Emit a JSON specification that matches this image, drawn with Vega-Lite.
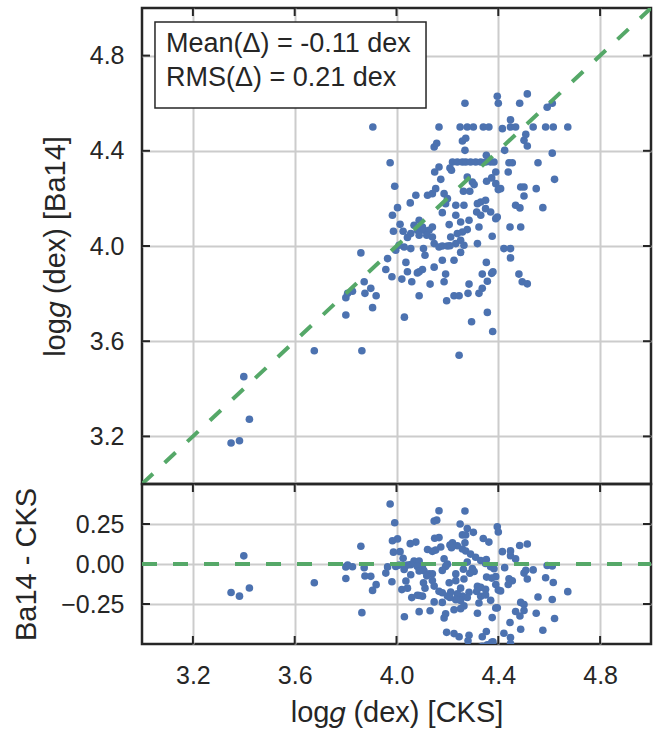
{
  "$schema": "https://vega.github.io/schema/vega-lite/v6.json",
  "padding": {"left": 11, "top": 5, "right": 12, "bottom": 0},
  "background": "white",
  "datasets": {
    "stars": [
      {"cks":3.400,"ba14":3.451,"delta":0.051},{"cks":3.422,"ba14":3.272,"delta":-0.150},{"cks":3.350,"ba14":3.172,"delta":-0.178},{"cks":3.383,"ba14":3.182,"delta":-0.201},
      {"cks":3.677,"ba14":3.560,"delta":-0.117},{"cks":3.864,"ba14":3.560,"delta":-0.304},{"cks":4.246,"ba14":3.541,"delta":-0.705},{"cks":3.907,"ba14":4.500,"delta":0.593},
      {"cks":3.975,"ba14":4.350,"delta":0.375},{"cks":3.993,"ba14":4.251,"delta":0.258},{"cks":3.860,"ba14":3.971,"delta":0.111},{"cks":3.801,"ba14":3.710,"delta":-0.091},
      {"cks":3.801,"ba14":3.783,"delta":-0.018},{"cks":3.808,"ba14":3.801,"delta":-0.007},{"cks":3.827,"ba14":3.810,"delta":-0.017},{"cks":3.873,"ba14":3.850,"delta":-0.023},
      {"cks":3.876,"ba14":3.801,"delta":-0.075},{"cks":3.899,"ba14":3.822,"delta":-0.077},{"cks":3.920,"ba14":3.791,"delta":-0.129},{"cks":3.906,"ba14":3.741,"delta":-0.165},
      {"cks":4.031,"ba14":3.701,"delta":-0.330},{"cks":4.295,"ba14":3.682,"delta":-0.613},{"cks":4.378,"ba14":3.641,"delta":-0.737},{"cks":4.357,"ba14":3.721,"delta":-0.636},
      {"cks":4.269,"ba14":4.600,"delta":0.331},{"cks":4.396,"ba14":4.629,"delta":0.233},{"cks":4.400,"ba14":4.600,"delta":0.200},{"cks":4.514,"ba14":4.639,"delta":0.125},
      {"cks":4.484,"ba14":4.600,"delta":0.116},{"cks":4.592,"ba14":4.583,"delta":-0.009},{"cks":4.612,"ba14":4.600,"delta":-0.012},{"cks":4.167,"ba14":4.500,"delta":0.333},
      {"cks":4.250,"ba14":4.500,"delta":0.250},{"cks":4.278,"ba14":4.500,"delta":0.222},{"cks":4.302,"ba14":4.500,"delta":0.198},{"cks":4.341,"ba14":4.500,"delta":0.159},
      {"cks":4.363,"ba14":4.500,"delta":0.137},{"cks":4.416,"ba14":4.493,"delta":0.077},{"cks":4.448,"ba14":4.500,"delta":0.052},{"cks":4.468,"ba14":4.500,"delta":0.032},
      {"cks":4.537,"ba14":4.500,"delta":-0.037},{"cks":4.586,"ba14":4.500,"delta":-0.086},{"cks":4.616,"ba14":4.500,"delta":-0.116},{"cks":4.673,"ba14":4.500,"delta":-0.173},
      {"cks":4.448,"ba14":4.530,"delta":0.082},{"cks":4.148,"ba14":4.416,"delta":0.268},{"cks":4.158,"ba14":4.432,"delta":0.274},{"cks":4.259,"ba14":4.441,"delta":0.182},
      {"cks":4.272,"ba14":4.453,"delta":0.181},{"cks":4.269,"ba14":4.402,"delta":0.133},{"cks":4.501,"ba14":4.444,"delta":-0.057},{"cks":4.514,"ba14":4.420,"delta":-0.094},
      {"cks":4.508,"ba14":4.469,"delta":-0.039},{"cks":4.425,"ba14":4.402,"delta":-0.023},{"cks":4.612,"ba14":4.390,"delta":-0.222},{"cks":4.556,"ba14":4.350,"delta":-0.206},
      {"cks":4.621,"ba14":4.280,"delta":-0.341},{"cks":4.575,"ba14":4.161,"delta":-0.414},{"cks":4.549,"ba14":4.241,"delta":-0.308},{"cks":4.220,"ba14":4.353,"delta":0.133},
      {"cks":4.239,"ba14":4.353,"delta":0.114},{"cks":4.259,"ba14":4.353,"delta":0.094},{"cks":4.272,"ba14":4.353,"delta":0.081},{"cks":4.291,"ba14":4.353,"delta":0.062},
      {"cks":4.311,"ba14":4.353,"delta":0.042},{"cks":4.331,"ba14":4.353,"delta":0.022},{"cks":4.350,"ba14":4.353,"delta":0.003},{"cks":4.370,"ba14":4.353,"delta":-0.017},
      {"cks":4.383,"ba14":4.353,"delta":-0.030},{"cks":4.442,"ba14":4.350,"delta":-0.092},{"cks":4.455,"ba14":4.350,"delta":-0.105},{"cks":4.439,"ba14":4.311,"delta":-0.128},
      {"cks":4.390,"ba14":4.311,"delta":-0.079},{"cks":4.353,"ba14":4.381,"delta":0.028},{"cks":4.150,"ba14":4.311,"delta":0.161},{"cks":4.167,"ba14":4.332,"delta":0.165},
      {"cks":4.210,"ba14":4.328,"delta":0.118},{"cks":4.216,"ba14":4.318,"delta":0.102},{"cks":4.174,"ba14":4.280,"delta":0.106},{"cks":4.278,"ba14":4.290,"delta":0.012},
      {"cks":4.298,"ba14":4.269,"delta":-0.029},{"cks":4.305,"ba14":4.258,"delta":-0.047},{"cks":4.354,"ba14":4.272,"delta":-0.082},{"cks":4.374,"ba14":4.286,"delta":-0.088},
      {"cks":4.390,"ba14":4.262,"delta":-0.128},{"cks":4.400,"ba14":4.237,"delta":-0.163},{"cks":4.409,"ba14":4.241,"delta":-0.168},{"cks":4.263,"ba14":4.230,"delta":-0.033},
      {"cks":4.288,"ba14":4.230,"delta":-0.058},{"cks":4.488,"ba14":4.248,"delta":-0.240},{"cks":4.501,"ba14":4.248,"delta":-0.253},{"cks":4.501,"ba14":4.210,"delta":-0.291},
      {"cks":4.468,"ba14":4.171,"delta":-0.297},{"cks":4.485,"ba14":4.160,"delta":-0.325},{"cks":4.122,"ba14":4.213,"delta":0.091},{"cks":4.141,"ba14":4.220,"delta":0.079},
      {"cks":4.154,"ba14":4.241,"delta":0.087},{"cks":4.076,"ba14":4.213,"delta":0.137},{"cks":4.054,"ba14":4.181,"delta":0.127},{"cks":4.187,"ba14":4.220,"delta":0.033},
      {"cks":4.200,"ba14":4.199,"delta":-0.001},{"cks":4.193,"ba14":4.178,"delta":-0.015},{"cks":4.180,"ba14":4.140,"delta":-0.040},{"cks":4.233,"ba14":4.171,"delta":-0.062},
      {"cks":4.265,"ba14":4.171,"delta":-0.094},{"cks":4.233,"ba14":4.129,"delta":-0.104},{"cks":4.318,"ba14":4.178,"delta":-0.140},{"cks":4.331,"ba14":4.185,"delta":-0.146},
      {"cks":4.350,"ba14":4.192,"delta":-0.158},{"cks":4.315,"ba14":4.143,"delta":-0.172},{"cks":4.331,"ba14":4.129,"delta":-0.202},{"cks":4.350,"ba14":4.157,"delta":-0.193},
      {"cks":4.370,"ba14":4.143,"delta":-0.227},{"cks":4.390,"ba14":4.115,"delta":-0.275},{"cks":4.396,"ba14":4.122,"delta":-0.274},{"cks":4.446,"ba14":4.080,"delta":-0.366},
      {"cks":4.488,"ba14":4.080,"delta":-0.408},{"cks":4.004,"ba14":4.161,"delta":0.157},{"cks":3.984,"ba14":4.129,"delta":0.145},{"cks":4.014,"ba14":4.091,"delta":0.077},
      {"cks":3.988,"ba14":4.062,"delta":0.074},{"cks":4.026,"ba14":4.062,"delta":0.036},{"cks":4.069,"ba14":4.087,"delta":0.018},{"cks":4.089,"ba14":4.108,"delta":0.019},
      {"cks":4.102,"ba14":4.080,"delta":-0.022},{"cks":4.082,"ba14":4.066,"delta":-0.016},{"cks":4.108,"ba14":4.066,"delta":-0.042},{"cks":4.128,"ba14":4.066,"delta":-0.062},
      {"cks":4.141,"ba14":4.080,"delta":-0.061},{"cks":4.056,"ba14":4.052,"delta":-0.004},{"cks":4.089,"ba14":4.045,"delta":-0.044},{"cks":4.119,"ba14":4.045,"delta":-0.074},
      {"cks":4.141,"ba14":4.038,"delta":-0.103},{"cks":4.043,"ba14":4.036,"delta":-0.007},{"cks":4.207,"ba14":4.090,"delta":-0.117},{"cks":4.252,"ba14":4.101,"delta":-0.151},
      {"cks":4.285,"ba14":4.108,"delta":-0.177},{"cks":4.278,"ba14":4.069,"delta":-0.209},{"cks":4.259,"ba14":4.059,"delta":-0.200},{"cks":4.239,"ba14":4.052,"delta":-0.187},
      {"cks":4.213,"ba14":4.038,"delta":-0.175},{"cks":4.324,"ba14":4.080,"delta":-0.244},{"cks":4.376,"ba14":4.041,"delta":-0.335},{"cks":4.252,"ba14":4.024,"delta":-0.228},
      {"cks":4.265,"ba14":4.003,"delta":-0.262},{"cks":4.233,"ba14":4.010,"delta":-0.223},{"cks":4.318,"ba14":4.010,"delta":-0.308},{"cks":4.030,"ba14":3.996,"delta":-0.034},
      {"cks":4.056,"ba14":3.989,"delta":-0.067},{"cks":4.148,"ba14":4.010,"delta":-0.138},{"cks":4.167,"ba14":3.996,"delta":-0.171},{"cks":4.180,"ba14":4.000,"delta":-0.180},
      {"cks":4.200,"ba14":4.000,"delta":-0.200},{"cks":4.210,"ba14":4.001,"delta":-0.209},{"cks":4.422,"ba14":3.989,"delta":-0.433},{"cks":4.448,"ba14":3.989,"delta":-0.459},
      {"cks":3.997,"ba14":3.982,"delta":-0.015},{"cks":4.010,"ba14":4.003,"delta":-0.007},{"cks":4.106,"ba14":3.989,"delta":-0.117},{"cks":4.252,"ba14":3.973,"delta":-0.279},
      {"cks":4.226,"ba14":3.940,"delta":-0.286},{"cks":4.180,"ba14":3.940,"delta":-0.240},{"cks":4.037,"ba14":3.931,"delta":-0.106},{"cks":4.112,"ba14":3.961,"delta":-0.151},
      {"cks":3.958,"ba14":3.901,"delta":-0.057},{"cks":3.982,"ba14":3.871,"delta":-0.111},{"cks":3.965,"ba14":3.947,"delta":-0.018},{"cks":4.021,"ba14":3.861,"delta":-0.160},
      {"cks":4.060,"ba14":3.850,"delta":-0.210},{"cks":4.043,"ba14":3.892,"delta":-0.151},{"cks":4.089,"ba14":3.892,"delta":-0.197},{"cks":4.102,"ba14":3.901,"delta":-0.201},
      {"cks":4.082,"ba14":3.887,"delta":-0.195},{"cks":4.148,"ba14":3.911,"delta":-0.237},{"cks":4.193,"ba14":3.882,"delta":-0.311},{"cks":4.187,"ba14":3.850,"delta":-0.337},
      {"cks":4.132,"ba14":3.840,"delta":-0.292},{"cks":4.089,"ba14":3.791,"delta":-0.298},{"cks":4.197,"ba14":3.770,"delta":-0.427},{"cks":4.226,"ba14":3.791,"delta":-0.435},
      {"cks":4.246,"ba14":3.791,"delta":-0.455},{"cks":4.285,"ba14":3.840,"delta":-0.445},{"cks":4.281,"ba14":3.801,"delta":-0.480},{"cks":4.324,"ba14":3.801,"delta":-0.523},
      {"cks":4.337,"ba14":3.822,"delta":-0.515},{"cks":4.357,"ba14":3.852,"delta":-0.505},{"cks":4.337,"ba14":3.882,"delta":-0.455},{"cks":4.374,"ba14":3.885,"delta":-0.489},
      {"cks":4.379,"ba14":3.892,"delta":-0.487},{"cks":4.353,"ba14":3.931,"delta":-0.422},{"cks":4.448,"ba14":3.950,"delta":-0.498},{"cks":4.481,"ba14":3.882,"delta":-0.599},
      {"cks":4.494,"ba14":3.850,"delta":-0.644},{"cks":4.514,"ba14":3.841,"delta":-0.673}
    ],
    "diag": [{"x": 3.0, "y": 3.0}, {"x": 5.0, "y": 5.0}],
    "zero": [{"x": 3.0, "y": 0}, {"x": 5.0, "y": 0}],
    "xticks": [{"v": 3.2}, {"v": 3.6}, {"v": 4.0}, {"v": 4.4}, {"v": 4.8}],
    "ytop": [{"v": 3.2}, {"v": 3.6}, {"v": 4.0}, {"v": 4.4}, {"v": 4.8}],
    "ybot": [{"v": -0.25}, {"v": 0}, {"v": 0.25}],
    "stats": [{"label": "Mean(Δ) = -0.11 dex"}, {"label": "RMS(Δ) = 0.21 dex"}]
  },
  "vconcat": [
    {
      "width": 509,
      "height": 476,
      "layer": [
        {
          "data": {"name": "stars"},
          "mark": {"type": "circle", "size": 58, "opacity": 1, "color": "#4c72b0"},
          "encoding": {
            "x": {"field": "cks", "type": "quantitative", "scale": {"domain": [3, 5], "nice": false, "zero": false},
                  "axis": {"values": [3.2, 3.6, 4.0, 4.4, 4.8], "labels": false, "ticks": false, "title": null}},
            "y": {"field": "ba14", "type": "quantitative", "scale": {"domain": [3, 5], "nice": false, "zero": false},
                  "axis": {"values": [3.2, 3.6, 4.0, 4.4, 4.8], "format": ".1f", "title": "log𝑔 (dex) [Ba14]", "ticks": false, "labelPadding": 18, "titlePadding": 19}}
          }
        },
        {
          "data": {"name": "xticks"},
          "mark": {"type": "rule", "color": "#262626", "strokeWidth": 2},
          "encoding": {
            "x": {"field": "v", "type": "quantitative"},
            "y": {"datum": 5.0, "type": "quantitative"},
            "y2": {"datum": 4.9664}
          }
        },
        {
          "data": {"name": "ytop"},
          "mark": {"type": "rule", "color": "#262626", "strokeWidth": 2},
          "encoding": {
            "y": {"field": "v", "type": "quantitative"},
            "x": {"datum": 3.0, "type": "quantitative"},
            "x2": {"datum": 3.0314}
          }
        },
        {
          "data": {"name": "ytop"},
          "mark": {"type": "rule", "color": "#262626", "strokeWidth": 2},
          "encoding": {
            "y": {"field": "v", "type": "quantitative"},
            "x": {"datum": 4.9686, "type": "quantitative"},
            "x2": {"datum": 5.0}
          }
        },
        {
          "data": {"name": "diag"},
          "mark": {"type": "line", "color": "#55a868", "strokeWidth": 4, "strokeDash": [15, 16], "clip": true},
          "encoding": {
            "x": {"field": "x", "type": "quantitative"},
            "y": {"field": "y", "type": "quantitative"}
          }
        },
        {
          "data": {"values": [{}]},
          "mark": {"type": "rect", "fill": "white", "stroke": "#262626", "strokeWidth": 1.5},
          "encoding": {
            "x": {"datum": 3.051, "type": "quantitative"},
            "x2": {"datum": 4.116},
            "y": {"datum": 4.941, "type": "quantitative"},
            "y2": {"datum": 4.580}
          }
        },
        {
          "data": {"name": "stats"},
          "transform": [{"filter": "datum.label[0] === 'M'"}],
          "mark": {"type": "text", "align": "left", "baseline": "middle", "font": "Liberation Sans", "fontSize": 27, "color": "#262626"},
          "encoding": {
            "x": {"datum": 3.094, "type": "quantitative"},
            "y": {"datum": 4.849, "type": "quantitative"},
            "text": {"field": "label"}
          }
        },
        {
          "data": {"name": "stats"},
          "transform": [{"filter": "datum.label[0] === 'R'"}],
          "mark": {"type": "text", "align": "left", "baseline": "middle", "font": "Liberation Sans", "fontSize": 27, "color": "#262626"},
          "encoding": {
            "x": {"datum": 3.094, "type": "quantitative"},
            "y": {"datum": 4.706, "type": "quantitative"},
            "text": {"field": "label"}
          }
        }
      ]
    },
    {
      "width": 509,
      "height": 160,
      "layer": [
        {
          "data": {"name": "stars"},
          "transform": [{"filter": "datum.delta < 0.55"}],
          "mark": {"type": "circle", "size": 58, "opacity": 1, "color": "#4c72b0", "clip": true},
          "encoding": {
            "x": {"field": "cks", "type": "quantitative", "scale": {"domain": [3, 5], "nice": false, "zero": false},
                  "axis": {"values": [3.2, 3.6, 4.0, 4.4, 4.8], "format": ".1f", "title": "log𝑔 (dex) [CKS]", "ticks": false, "labelPadding": 19, "titlePadding": 10}},
            "y": {"field": "delta", "type": "quantitative", "scale": {"domain": [-0.5, 0.5], "nice": false, "zero": false},
                  "axis": {"values": [-0.25, 0, 0.25], "format": ".2f", "title": "Ba14 - CKS", "ticks": false, "labelPadding": 18, "titlePadding": 19}}
          }
        },
        {
          "data": {"name": "xticks"},
          "mark": {"type": "rule", "color": "#262626", "strokeWidth": 2},
          "encoding": {
            "x": {"field": "v", "type": "quantitative"},
            "y": {"datum": 0.5, "type": "quantitative"},
            "y2": {"datum": 0.45}
          }
        },
        {
          "data": {"name": "xticks"},
          "mark": {"type": "rule", "color": "#262626", "strokeWidth": 2},
          "encoding": {
            "x": {"field": "v", "type": "quantitative"},
            "y": {"datum": -0.5, "type": "quantitative"},
            "y2": {"datum": -0.45}
          }
        },
        {
          "data": {"name": "ybot"},
          "mark": {"type": "rule", "color": "#262626", "strokeWidth": 2},
          "encoding": {
            "y": {"field": "v", "type": "quantitative"},
            "x": {"datum": 3.0, "type": "quantitative"},
            "x2": {"datum": 3.0314}
          }
        },
        {
          "data": {"name": "ybot"},
          "mark": {"type": "rule", "color": "#262626", "strokeWidth": 2},
          "encoding": {
            "y": {"field": "v", "type": "quantitative"},
            "x": {"datum": 4.9686, "type": "quantitative"},
            "x2": {"datum": 5.0}
          }
        },
        {
          "data": {"name": "zero"},
          "mark": {"type": "line", "color": "#55a868", "strokeWidth": 4, "strokeDash": [15, 16]},
          "encoding": {
            "x": {"field": "x", "type": "quantitative"},
            "y": {"field": "y", "type": "quantitative"}
          }
        }
      ]
    }
  ],
  "spacing": 0,
  "bounds": "flush",
  "config": {
    "view": {"stroke": "#262626", "strokeWidth": 2.5},
    "axis": {
      "labelFont": "Liberation Sans", "labelFontSize": 25, "labelColor": "#262626",
      "titleFont": "Liberation Sans", "titleFontSize": 29, "titleFontWeight": "normal", "titleColor": "#262626",
      "gridColor": "#cccccc", "gridWidth": 2, "domain": false, "minExtent": 0
    }
  }
}
